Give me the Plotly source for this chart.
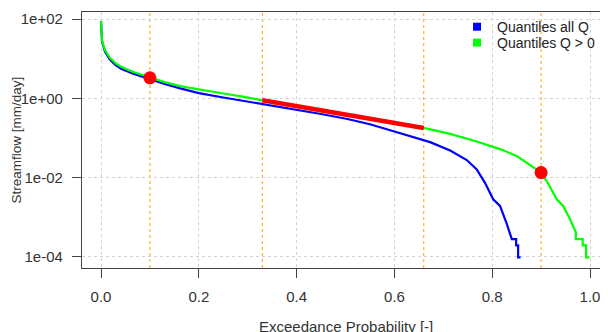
import plotly.graph_objects as go

# ---------------- data ----------------
# Quantiles Q > 0 (green)
pos_x = [0.000, 0.002, 0.008, 0.018, 0.030, 0.042, 0.066, 0.100, 0.130, 0.162,
         0.200, 0.250, 0.290, 0.330, 0.400, 0.450, 0.500, 0.550, 0.600, 0.660,
         0.714, 0.768, 0.816, 0.850, 0.877, 0.900, 0.915, 0.932, 0.945, 0.959,
         0.971, 0.971, 0.985, 0.985, 0.992, 0.992, 0.999]
pos_q = [89.1, 28.8, 16.6, 10.5, 7.6, 6.2, 4.6, 3.3, 2.57, 2.04,
         1.66, 1.32, 1.10, 0.89, 0.65, 0.51, 0.41, 0.32, 0.245, 0.178,
         0.126, 0.081, 0.052, 0.035, 0.021, 0.0132, 0.0068, 0.0028, 0.0019, 0.00089,
         0.00041, 0.000275, 0.000275, 0.00019, 0.00019, 0.000095, 0.000095]

# Quantiles all Q (blue)
all_x = [0.000, 0.002, 0.008, 0.018, 0.030, 0.042, 0.066, 0.100, 0.130, 0.162,
         0.200, 0.250, 0.290, 0.331, 0.400, 0.450, 0.504, 0.550, 0.600, 0.640,
         0.673, 0.714, 0.748, 0.768, 0.785, 0.802, 0.816, 0.830, 0.840, 0.840,
         0.849, 0.849, 0.853, 0.853, 0.858]
all_q = [89.1, 27.5, 15.1, 9.5, 6.9, 5.5, 4.2, 3.0, 2.3, 1.78,
         1.35, 1.05, 0.87, 0.69, 0.51, 0.40, 0.30, 0.22, 0.145, 0.105,
         0.078, 0.048, 0.0275, 0.0162, 0.0074, 0.0028, 0.0019, 0.00066, 0.0003, 0.000275,
         0.000275, 0.00019, 0.00019, 0.000095, 0.000095]

# mid-segment slope (red line) and highlighted quantiles (red dots)
seg_x = [0.33, 0.66]
seg_q = [0.89, 0.178]
dot_x = [0.1, 0.9]
dot_q = [3.3, 0.0132]

# reference probabilities (orange dotted lines)
ref_probs = [0.1, 0.33, 0.66, 0.9]

# axis ticks
x_ticks = [0.0, 0.2, 0.4, 0.6, 0.8, 1.0]
x_tick_text = ["0.0", "0.2", "0.4", "0.6", "0.8", "1.0"]
y_ticks = [1e-4, 1e-2, 1e0, 1e2]
y_tick_text = ["1e-04", "1e-02", "1e+00", "1e+02"]

# ---------------- figure ----------------
FONT = "Liberation Sans, Arial, sans-serif"
fig = go.Figure()

fig.add_trace(go.Scatter(x=all_x, y=all_q, mode="lines",
                         line=dict(color="#0000FF", width=2.2),
                         showlegend=False, hoverinfo="skip"))
fig.add_trace(go.Scatter(x=pos_x, y=pos_q, mode="lines",
                         line=dict(color="#00FF00", width=2.2),
                         showlegend=False, hoverinfo="skip"))
fig.add_trace(go.Scatter(x=seg_x, y=seg_q, mode="lines",
                         line=dict(color="#FF0000", width=4.5),
                         showlegend=False, hoverinfo="skip"))
fig.add_trace(go.Scatter(x=dot_x, y=dot_q, mode="markers",
                         marker=dict(color="#FF0000", size=13),
                         showlegend=False, hoverinfo="skip"))

# legend entries (one legend per row so row spacing can match)
fig.add_trace(go.Scatter(x=[None], y=[None], mode="markers", name="Quantiles all Q",
                         marker=dict(color="#0000FF", size=8, symbol="square"),
                         legend="legend"))
fig.add_trace(go.Scatter(x=[None], y=[None], mode="markers", name="Quantiles Q > 0",
                         marker=dict(color="#00FF00", size=8, symbol="square"),
                         legend="legend2"))

for p in ref_probs:
    fig.add_vline(x=p, line=dict(color="#FFA500", width=1, dash="dot"), layer="below")

leg_common = dict(xanchor="left", yanchor="middle", bgcolor="rgba(0,0,0,0)",
                  font=dict(size=14, color="#222222"), itemwidth=30)

# page has an 8px body margin: figure is offset by (8, 8)
fig.update_layout(
    width=600, height=324,
    margin=dict(l=74, r=0, t=4, b=64, autoexpand=False),
    paper_bgcolor="white", plot_bgcolor="white",
    font=dict(family=FONT, size=15, color="#333333"),
    showlegend=True,
    legend=dict(x=0.713, y=0.941, **leg_common),
    legend2=dict(x=0.713, y=0.879, **leg_common),
)

fig.update_xaxes(
    range=[-0.0389, 1.0368], tickmode="array", tickvals=x_ticks, ticktext=x_tick_text,
    showgrid=True, gridcolor="#D3D3D3", griddash="dot", gridwidth=1,
    zeroline=False, showline=True, mirror=True, linecolor="#444444", linewidth=1.3,
    ticks="outside", ticklen=9, tickcolor="#444444", tickwidth=1.3,
    tickfont=dict(size=15, color="#333333"), ticklabelstandoff=6, automargin=False,
)
fig.update_yaxes(
    type="log", range=[-4.291, 2.182], tickmode="array", tickvals=y_ticks, ticktext=y_tick_text,
    showgrid=True, gridcolor="#D3D3D3", griddash="dot", gridwidth=1,
    zeroline=False, showline=True, mirror=False, linecolor="#444444", linewidth=1.3,
    ticks="outside", ticklen=9, tickcolor="#444444", tickwidth=1.3,
    tickfont=dict(size=15, color="#333333"), ticklabelstandoff=6, automargin=False,
)

fig.add_annotation(text="Exceedance Probability [-]", xref="paper", yref="paper",
                   x=0.502, y=-0.228, xanchor="center", yanchor="middle", showarrow=False,
                   font=dict(size=15, color="#333333"))
fig.add_annotation(text="Streamflow [mm/day]", xref="paper", yref="paper",
                   x=-0.1236, y=0.502, xanchor="center", yanchor="middle", showarrow=False,
                   textangle=-90, font=dict(size=13.5, color="#333333"))

fig.write_html("out.html")
